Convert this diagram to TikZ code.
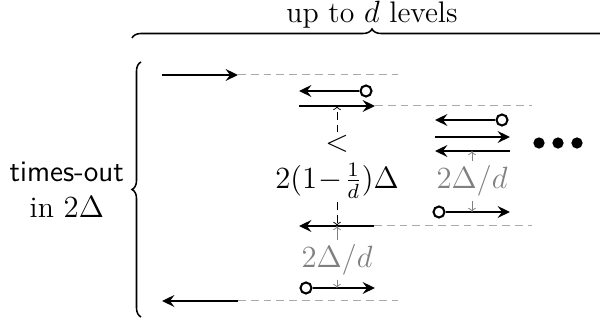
\documentclass[tikz,border=0pt]{standalone}
\usepackage{amsmath, amssymb}
\usepackage{tikz}
\usetikzlibrary{arrows.meta, positioning, decorations.pathreplacing}
\usepackage{xcolor}
\definecolor{lvlgray}{RGB}{128,128,128}
\definecolor{lvldash}{RGB}{170,170,170}

\begin{document}
\begin{tikzpicture}[
  x=0.39pt, y=0.39pt,
  font=\fontsize{11.6}{14}\selectfont,
  msg/.style={line width=0.8pt, -{Stealth[length=4.8pt, width=4.6pt, inset=1.7pt]}},
  sendpt/.style={circle, draw, line width=0.8pt, fill=white, minimum size=4.3pt,
                 inner sep=0pt},
  lvlline/.style={lvldash, line width=0.4pt, dash pattern=on 3pt off 2pt},
  gap/.style={lvlgray, line width=0.3pt, -{To[length=1.6pt, width=3pt]}},
  bound/.style={black, line width=0.3pt, dash pattern=on 3pt off 2pt,
                -{To[length=1.6pt, width=3pt]}},
  gaplabel/.style={lvlgray, inner sep=1.5pt},
  brc/.style={decorate, decoration={brace, amplitude=3.5pt}, line width=0.6pt},
  dot/.style={circle, fill, inner sep=0pt, minimum size=4.4pt},
]
  \useasboundingbox (0,0) rectangle (600,320);

  % ── Outer levels ──
  \coordinate (a0) at (162,245); \coordinate (a1) at (238,245);
  \coordinate (f0) at (238,19);  \coordinate (f1) at (162,19);
  \draw[msg] (a0) -- (a1);
  \draw[msg] (f0) -- (f1);
  \draw[lvlline] (a1) -- (398,245);
  \draw[lvlline] (f0) -- (398,19);

  % ── Second level ──
  \node[sendpt] (b0) at (366,229) {};
  \coordinate (b1) at (299,229);
  \coordinate (c0) at (299,214); \coordinate (c1) at (375,214);
  \coordinate (d0) at (374,94);  \coordinate (d1) at (299,94);
  \node[sendpt] (e0) at (306,32) {};
  \coordinate (e1) at (375,32);
  \draw[msg] (b0) -- (b1);
  \draw[msg] (c0) -- (c1);
  \draw[msg] (d0) -- (d1);
  \draw[msg] (e0) -- (e1);
  \draw[lvlline] (c1) -- (532,214);
  \draw[lvlline] (d0) -- (532,94);

  % ── Third level ──
  \node[sendpt] (g0) at (502,200) {};
  \coordinate (g1) at (435,200);
  \coordinate (h0) at (435,183); \coordinate (h1) at (510,183);
  \coordinate (i0) at (510,169); \coordinate (i1) at (435,169);
  \node[sendpt] (j0) at (439,108) {};
  \coordinate (j1) at (510,108);
  \draw[msg] (g0) -- (g1);
  \draw[msg] (h0) -- (h1);
  \draw[msg] (i0) -- (i1);
  \draw[msg] (j0) -- (j1);

  % ── Gaps ──
  \node[inner sep=1pt] (lt) at (337,176) {$<$};
  \node[inner sep=1pt] (gapval) at (337,139)
    {$2(1\mskip1mu{-}\mskip1mu\frac{1}{d})\Delta$};
  \coordinate (cup) at (337,214); \coordinate (ddown) at (337,94);
  \draw[bound] (lt) -- (cup);
  \draw[bound] (gapval) -- (ddown);

  \node[gaplabel] (gapd) at (337,60) {$2\Delta/d$};
  \coordinate (dup) at (337,94); \coordinate (edown) at (337,32);
  \draw[gap] (gapd) -- (dup);
  \draw[gap] (gapd) -- (edown);

  \node[gaplabel] (gapr) at (472,139) {$2\Delta/d$};
  \coordinate (iup) at (472,169); \coordinate (jdown) at (472,108);
  \draw[gap] (gapr) -- (iup);
  \draw[gap] (gapr) -- (jdown);

  % ── More levels ──
  \foreach \i/\x in {1/539,2/558,3/577} {
    \node[dot] (dot\i) at (\x,177) {};
  }

  % ── Braces ──
  \coordinate (tl) at (132,282); \coordinate (tr) at (612,282);
  \draw[brc] (tl) -- (tr);
  \node (depth) at (372,305) {up to $d$ levels};
  \coordinate (lb) at (141,3); \coordinate (lt2) at (141,258);
  \draw[brc] (lb) -- (lt2);
  \node[align=center, anchor=east, inner sep=1pt] (tout) at (127,130)
    {\textsf{times-out}\\in $2\Delta$};
\end{tikzpicture}
\end{document}
